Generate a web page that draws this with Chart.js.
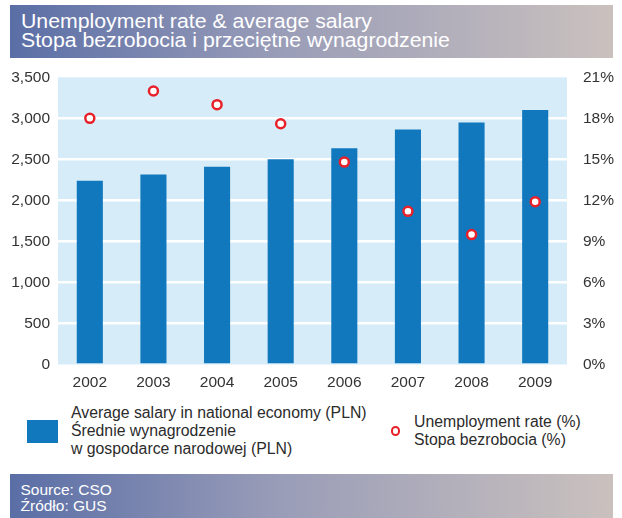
<!DOCTYPE html>
<html>
<head>
<meta charset="utf-8">
<script src="https://cdn.jsdelivr.net/npm/chart.js@4/dist/chart.umd.min.js"></script>
<style>
  html, body { margin: 0; padding: 0; background: #fff; }
  body { width: 622px; height: 518px; position: relative; overflow: hidden;
         font-family: "Liberation Sans", Arial, sans-serif; }
  .banner { position: absolute; left: 10px; width: 603px;
            background: linear-gradient(to right, #5a6ea6 0%, #9a9db8 45%, #cac1be 100%);
            color: #fff; box-sizing: border-box; padding-left: 10.5px; }
  #title { top: 5px; height: 53px; padding-top: 7px; }
  #title span { display: block; font-size: 19.5px; line-height: 18.5px;
                transform: scaleX(1.09); transform-origin: left center; white-space: nowrap; }
  #footer { top: 474px; height: 44px; font-size: 15.5px; line-height: 16px; padding-top: 7.5px; }
  #chartBox { position: absolute; left: 0; top: 52px; width: 622px; height: 343px; }
  .leg { position: absolute; color: #2b2b2b; font-size: 15.8px; line-height: 18.3px; white-space: nowrap; }
  .swatch { position: absolute; left: 27px; top: 420px; width: 31px; height: 23px; background: #1178be; }
  .ring { position: absolute; left: 390.5px; top: 426px; width: 5.5px; height: 5.5px;
          border: 2.5px solid #e8202a; border-radius: 50%; background: #fff; }
</style>
</head>
<body>
<div id="title" class="banner"><span>Unemployment rate &amp; average salary</span><span>Stopa bezrobocia i przeciętne wynagrodzenie</span></div>
<div id="chartBox"><canvas id="chart"></canvas></div>
<div class="swatch"></div>
<div class="leg" style="left:71px; top:403.7px;">Average salary in national economy (PLN)<br>Średnie wynagrodzenie<br>w gospodarce narodowej (PLN)</div>
<div class="ring"></div>
<div class="leg" style="left:414px; top:413px;">Unemployment rate (%)<br>Stopa bezrobocia (%)</div>
<div id="footer" class="banner">Source: CSO<br>Źródło: GUS</div>

<script>
// Years on the category axis
const years = ['2002', '2003', '2004', '2005', '2006', '2007', '2008', '2009'];
// Average monthly salary, PLN
const salary = [2240, 2315, 2410, 2500, 2635, 2865, 2950, 3100];
// Unemployment rate, %
const unemployment = [18.0, 20.0, 19.0, 17.6, 14.8, 11.2, 9.5, 11.9];

const tickFont = { family: '"Liberation Sans", Arial, sans-serif', size: 15.5 };
const tickColor = '#333333';

// Light blue fill behind the plotting area
const plotBackground = {
  id: 'plotBackground',
  beforeDraw(chart) {
    const { ctx, chartArea: a } = chart;
    ctx.save();
    ctx.fillStyle = '#d6ecf9';
    ctx.fillRect(a.left, a.top, a.right - a.left, a.bottom - a.top);
    ctx.restore();
  }
};

new Chart(document.getElementById('chart'), {
  data: {
    labels: years,
    datasets: [
      {
        type: 'scatter',
        label: 'Unemployment rate (%)',
        data: unemployment,
        yAxisID: 'yRate',
        showLine: false,
        pointRadius: 4.5,
        pointHoverRadius: 4.5,
        pointBorderWidth: 2.5,
        pointBorderColor: '#e8202a',
        pointBackgroundColor: '#ffffff',
        order: 0
      },
      {
        type: 'bar',
        label: 'Average salary (PLN)',
        data: salary,
        yAxisID: 'ySalary',
        backgroundColor: '#1178be',
        borderWidth: 0,
        categoryPercentage: 1,
        barPercentage: 0.41,
        order: 1
      }
    ]
  },
  options: {
    responsive: true,
    maintainAspectRatio: false,
    animation: false,
    layout: { padding: { top: 10, left: 0, right: 0, bottom: 0 } },
    plugins: { legend: { display: false }, tooltip: { enabled: false } },
    scales: {
      x: {
        type: 'category',
        offset: true,
        grid: { display: false, drawTicks: false },
        border: { display: false },
        ticks: { font: tickFont, color: tickColor, padding: 9 },
        afterFit(s) { s.height = 30.5; }
      },
      ySalary: {
        position: 'left',
        min: 0,
        max: 3500,
        grid: {
          drawTicks: false,
          lineWidth: 2.5,
          color: (c) => (c.tick && c.tick.value > 0 && c.tick.value < 3500) ? '#ffffff' : 'rgba(0,0,0,0)'
        },
        border: { display: false },
        ticks: {
          stepSize: 500,
          font: tickFont,
          color: tickColor,
          padding: 8,
          callback: (v) => v.toLocaleString('en-US')
        },
        afterFit(s) { s.width = 58; }
      },
      yRate: {
        position: 'right',
        min: 0,
        max: 21,
        grid: { display: false, drawTicks: false },
        border: { display: false },
        ticks: {
          stepSize: 3,
          font: tickFont,
          color: tickColor,
          padding: 16,
          callback: (v) => v + '%'
        },
        afterFit(s) { s.width = 55; }
      }
    }
  },
  plugins: [plotBackground]
});
</script>
</body>
</html>
